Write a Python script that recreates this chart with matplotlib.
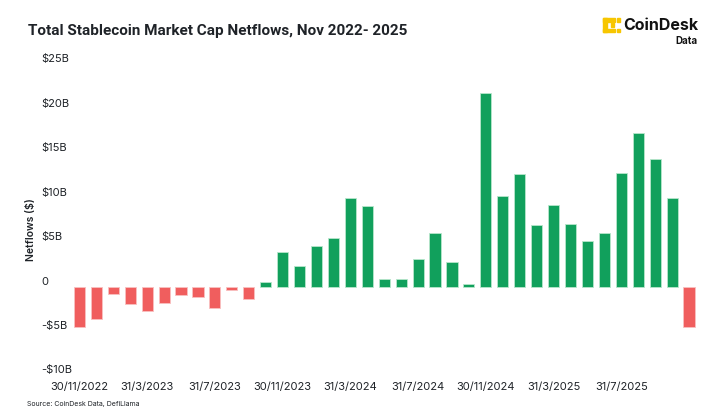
import matplotlib
matplotlib.use("Agg")
import matplotlib.pyplot as plt
from matplotlib.patches import Rectangle

plt.rcParams['font.family'] = ['Inter', 'DejaVu Sans']

months = ["Nov 2022", "Dec 2022", "Jan 2023", "Feb 2023", "Mar 2023", "Apr 2023",
          "May 2023", "Jun 2023", "Jul 2023", "Aug 2023", "Sep 2023", "Oct 2023",
          "Nov 2023", "Dec 2023", "Jan 2024", "Feb 2024", "Mar 2024", "Apr 2024",
          "May 2024", "Jun 2024", "Jul 2024", "Aug 2024", "Sep 2024", "Oct 2024",
          "Nov 2024", "Dec 2024", "Jan 2025", "Feb 2025", "Mar 2025", "Apr 2025",
          "May 2025", "Jun 2025", "Jul 2025", "Aug 2025", "Sep 2025", "Oct 2025",
          "Nov 2025"]
netflows_b = [-4.6, -3.6, -0.85, -2.0, -2.75, -1.8, -1.0, -1.2, -2.4, -0.4, -1.4, 0.5,
              3.85, 2.3, 4.6, 5.4, 9.9, 9.1, 0.9, 0.9, 3.05, 6.0, 2.8, 0.3,
              21.8, 10.2, 12.7, 6.9, 9.2, 7.0, 5.1, 6.0, 12.8, 17.2, 14.3, 9.9, -4.5]
tick_labels = ["30/11/2022", "31/3/2023", "31/7/2023", "30/11/2023", "31/3/2024",
               "31/7/2024", "30/11/2024", "31/3/2025", "31/7/2025"]
tick_idx = [0, 4, 8, 12, 16, 20, 24, 28, 32]
y_ticks = [-10, -5, 0, 5, 10, 15, 20, 25]
y_tick_labels = ["-$10B", "-$5B", "0", "$5B", "$10B", "$15B", "$20B", "$25B"]

GREEN = "#11A05C"
RED = "#F05E5E"
TEXT = "#1F2328"

fig = plt.figure(figsize=(7.2, 4.13), dpi=100)
ax = fig.add_axes([0.0915, 0.0908, 0.8843, 0.754])

x = list(range(len(netflows_b)))
colors = [GREEN if v >= 0 else RED for v in netflows_b]
edges = ["#B8E6CC" if v >= 0 else "#F9C0C0" for v in netflows_b]
ax.bar(x, netflows_b, width=0.66, color=colors, edgecolor=edges, linewidth=0.6)

ax.set_xlim(-0.8, len(netflows_b) - 0.2)
ax.set_ylim(-10, 25)
for s in ax.spines.values():
    s.set_visible(False)

ax.set_xticks(tick_idx)
ax.set_xticklabels(tick_labels, fontsize=8, color=TEXT)
ax.tick_params(axis='x', length=0, pad=5)

ax.set_yticks(y_ticks)
ax.set_yticklabels(y_tick_labels, fontsize=8, color=TEXT, ha='left', va='bottom')
ax.tick_params(axis='y', length=0, pad=18)

ax.set_ylabel("Netflows ($)", fontsize=7.5, color=TEXT, fontweight='semibold', labelpad=3)
ax.yaxis.set_label_coords(-0.047, 0.47)

fig.text(28 / 720, 1 - 31 / 413, "Total Stablecoin Market Cap Netflows, Nov 2022- 2025",
         fontsize=11, fontweight='bold', color=TEXT, va='center', ha='left',
         family=['Roboto', 'DejaVu Sans'])

fig.text(27 / 720, 1 - 404 / 413, "Source: CoinDesk Data, DefiLlama",
         fontsize=5, color=TEXT, va='center', ha='left')

# CoinDesk logo
fig.text(698 / 720, 1 - 25 / 413, "CoinDesk", fontsize=11.5, fontweight='bold',
         color='#111111', ha='right', va='center')
fig.text(698 / 720, 1 - 41 / 413, "Data", fontsize=7, fontweight='bold',
         color='#111111', ha='right', va='center')
Y = "#F7C600"
def px_rect(x0, y0, w, h):
    fig.patches.append(Rectangle((x0 / 720, 1 - (y0 + h) / 413), w / 720, h / 413,
                                 transform=fig.transFigure, color=Y))
px_rect(603, 18, 4, 14)
px_rect(603, 18, 12, 3.5)
px_rect(603, 28.5, 12, 3.5)
px_rect(617, 18, 3, 3.5)
px_rect(617, 28.5, 3, 3.5)
px_rect(611, 23, 3, 3.5)

fig.savefig("out.png", dpi=100, facecolor='white')
